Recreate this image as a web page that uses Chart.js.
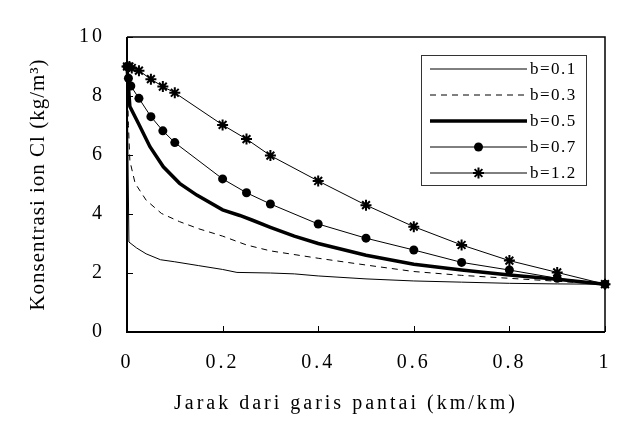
<!DOCTYPE html>
<html>
<head>
<meta charset="utf-8">
<script src="https://cdn.jsdelivr.net/npm/chart.js@4.4.0/dist/chart.umd.min.js"></script>
<style>
  html, body { margin:0; padding:0; background:#fff; }
  canvas { display:block; }
</style>
</head>
<body>
<canvas id="c" width="642" height="437"></canvas>
<script>
// Cl concentration vs distance from coastline, for several b values
const X_TICKS = [0, 0.2, 0.4, 0.6, 0.8, 1];
const Y_TICKS = [0, 2, 4, 6, 8, 10];
const LABELS = ["b=0.1", "b=0.3", "b=0.5", "b=0.7", "b=1.2"];

const xB01 = [0, 0.004, 0.02, 0.04, 0.07, 0.1, 0.15, 0.2, 0.23, 0.3, 0.35, 0.4, 0.5, 0.6, 0.7, 0.8, 0.9, 1];
const yB01 = [9, 3.05, 2.85, 2.65, 2.45, 2.38, 2.25, 2.12, 2.02, 2.0, 1.97, 1.9, 1.8, 1.73, 1.69, 1.65, 1.63, 1.62];

const xB03 = [0, 0.003, 0.006, 0.017, 0.04, 0.072, 0.11, 0.15, 0.2, 0.25, 0.3, 0.4, 0.5, 0.6, 0.7, 0.8, 0.9, 1];
const yB03 = [9, 7.0, 5.8, 5.04, 4.47, 4.02, 3.74, 3.5, 3.25, 2.95, 2.75, 2.5, 2.27, 2.05, 1.92, 1.82, 1.72, 1.62];

const xB05 = [0, 0.006, 0.024, 0.048, 0.076, 0.11, 0.146, 0.2, 0.236, 0.264, 0.3, 0.35, 0.4, 0.5, 0.6, 0.7, 0.8, 0.9, 1];
const yB05 = [9, 7.64, 7.07, 6.28, 5.6, 5.04, 4.64, 4.14, 3.95, 3.78, 3.55, 3.25, 3.0, 2.6, 2.3, 2.1, 1.93, 1.79, 1.62];

const xB07 = [0, 0.003, 0.008, 0.025, 0.05, 0.075, 0.1, 0.2, 0.25, 0.3, 0.4, 0.5, 0.6, 0.7, 0.8, 0.9, 1];
const yB07 = [9, 8.6, 8.34, 7.92, 7.3, 6.82, 6.42, 5.19, 4.72, 4.34, 3.66, 3.18, 2.78, 2.36, 2.1, 1.82, 1.62];

const xB12 = [0, 0.005, 0.01, 0.025, 0.05, 0.075, 0.1, 0.2, 0.25, 0.3, 0.4, 0.5, 0.6, 0.7, 0.8, 0.9, 1];
const yB12 = [9, 9, 8.95, 8.86, 8.57, 8.32, 8.11, 7.02, 6.54, 5.98, 5.12, 4.3, 3.57, 2.95, 2.42, 2.02, 1.62];

function pts(xs, ys){ return xs.map((x,i)=>({x, y:ys[i]})); }

const SERIF = "'Liberation Serif', 'Times New Roman', serif";

function ds(label, xs, ys, extra){
  return Object.assign({
    label, data: pts(xs, ys), showLine:true, borderColor:"#000", backgroundColor:"#000",
    borderWidth:1, pointRadius:0, pointHoverRadius:0, tension:0, clip:false
  }, extra||{});
}

const datasets = [
  ds(LABELS[0], xB01, yB01),
  ds(LABELS[1], xB03, yB03, {borderDash:[6,5]}),
  ds(LABELS[2], xB05, yB05, {borderWidth:3.5}),
  ds(LABELS[3], xB07, yB07, {pointRadius:4.5, pointStyle:"circle", pointBorderWidth:0}),
  ds(LABELS[4], xB12, yB12, {pointRadius:5.5, pointStyle:"star", pointBorderWidth:2})
];

// frame, inside ticks, letter spacing and the boxed legend
const frame = {
  id:"frame",
  beforeDraw(c){ c.ctx.letterSpacing = "3px"; },
  afterDatasetsDraw(c){ c.ctx.letterSpacing = "1px"; },
  afterDraw(c){
    const {ctx, chartArea:a, scales:{x, y}} = c;
    ctx.save();
    ctx.letterSpacing = "0px";
    ctx.strokeStyle = "#000";
    ctx.lineWidth = 1.5;
    ctx.beginPath();
    ctx.moveTo(a.left, a.top); ctx.lineTo(a.right, a.top); ctx.lineTo(a.right, a.bottom);
    ctx.stroke();
    ctx.lineWidth = 2;
    ctx.beginPath();
    ctx.moveTo(a.left, a.top); ctx.lineTo(a.left, a.bottom); ctx.lineTo(a.right, a.bottom);
    ctx.stroke();
    ctx.lineWidth = 1;
    ctx.beginPath();
    x.ticks.forEach(t=>{ const px = Math.round(x.getPixelForValue(t.value))+0.5; ctx.moveTo(px, a.bottom); ctx.lineTo(px, a.bottom-6); });
    y.ticks.forEach(t=>{ const py = Math.round(y.getPixelForValue(t.value))+0.5; ctx.moveTo(a.left, py); ctx.lineTo(a.left+6, py); });
    ctx.stroke();

    // legend
    const L = {left:421, top:55, w:165, h:130, x0:430, x1:527, tx:530, y0:69, dy:26};
    ctx.fillStyle = "#fff";
    ctx.fillRect(L.left, L.top, L.w, L.h);
    ctx.strokeStyle = "#333";
    ctx.lineWidth = 1;
    ctx.strokeRect(L.left+0.5, L.top+0.5, L.w, L.h);
    c.data.datasets.forEach((d,i)=>{
      const yy = L.y0 + i*L.dy;
      const cx = (L.x0+L.x1)/2;
      ctx.strokeStyle = d.borderColor;
      ctx.lineWidth = d.borderWidth;
      ctx.setLineDash(d.borderDash || []);
      ctx.beginPath(); ctx.moveTo(L.x0, yy); ctx.lineTo(L.x1, yy); ctx.stroke();
      ctx.setLineDash([]);
      if(d.pointRadius){
        ctx.fillStyle = "#000"; ctx.strokeStyle = "#000";
        if(d.pointStyle === "circle"){ ctx.beginPath(); ctx.arc(cx, yy, d.pointRadius, 0, Math.PI*2); ctx.fill(); }
        else {
          ctx.lineWidth = d.pointBorderWidth || 1;
          Chart.helpers.drawPoint(ctx, {pointStyle:d.pointStyle, radius:d.pointRadius, borderWidth:d.pointBorderWidth, rotation:0}, cx, yy);
        }
      }
      ctx.fillStyle = "#000";
      ctx.font = "17px " + SERIF;
      ctx.letterSpacing = "1.5px";
      ctx.textAlign = "left"; ctx.textBaseline = "middle";
      ctx.fillText(d.label, L.tx, yy+1);
      ctx.letterSpacing = "0px";
    });
    ctx.restore();
  }
};

new Chart(document.getElementById("c"), {
  type:"scatter",
  data:{ datasets },
  options:{
    responsive:false, animation:false, devicePixelRatio:1,
    layout:{ padding:{ top:37, right:37, left:0, bottom:0 } },
    plugins:{ legend:{display:false}, tooltip:{enabled:false} },
    scales:{
      x:{
        type:"linear", min:0, max:1,
        afterBuildTicks(s){ s.ticks = X_TICKS.map(v=>({value:v})); },
        afterFit(s){ s.height = 105; },
        grid:{ display:false, drawTicks:false },
        border:{ display:false },
        ticks:{ color:"#000", padding:19, font:{family:SERIF, size:20},
          callback:(v)=> (v===0||v===1) ? String(v) : Number(v).toFixed(1) },
        title:{ display:true, text:"Jarak dari garis pantai (km/km)\u00a0\u00a0\u00a0\u00a0\u00a0", color:"#000",
          font:{family:SERIF, size:20}, padding:{top:0, bottom:21} }
      },
      y:{
        type:"linear", min:0, max:10,
        afterBuildTicks(s){ s.ticks = Y_TICKS.map(v=>({value:v})); },
        afterFit(s){ s.width = 127; },
        grid:{ display:false, drawTicks:false, z:1 },
        border:{ display:false },
        ticks:{ color:"#000", padding:22, font:{family:SERIF, size:20} },
        title:{ display:true, text:"Konsentrasi ion Cl (kg/m³)", color:"#000",
          font:{family:SERIF, size:21}, padding:{top:26, bottom:0} }
      }
    }
  },
  plugins:[frame]
});
</script>
</body>
</html>
